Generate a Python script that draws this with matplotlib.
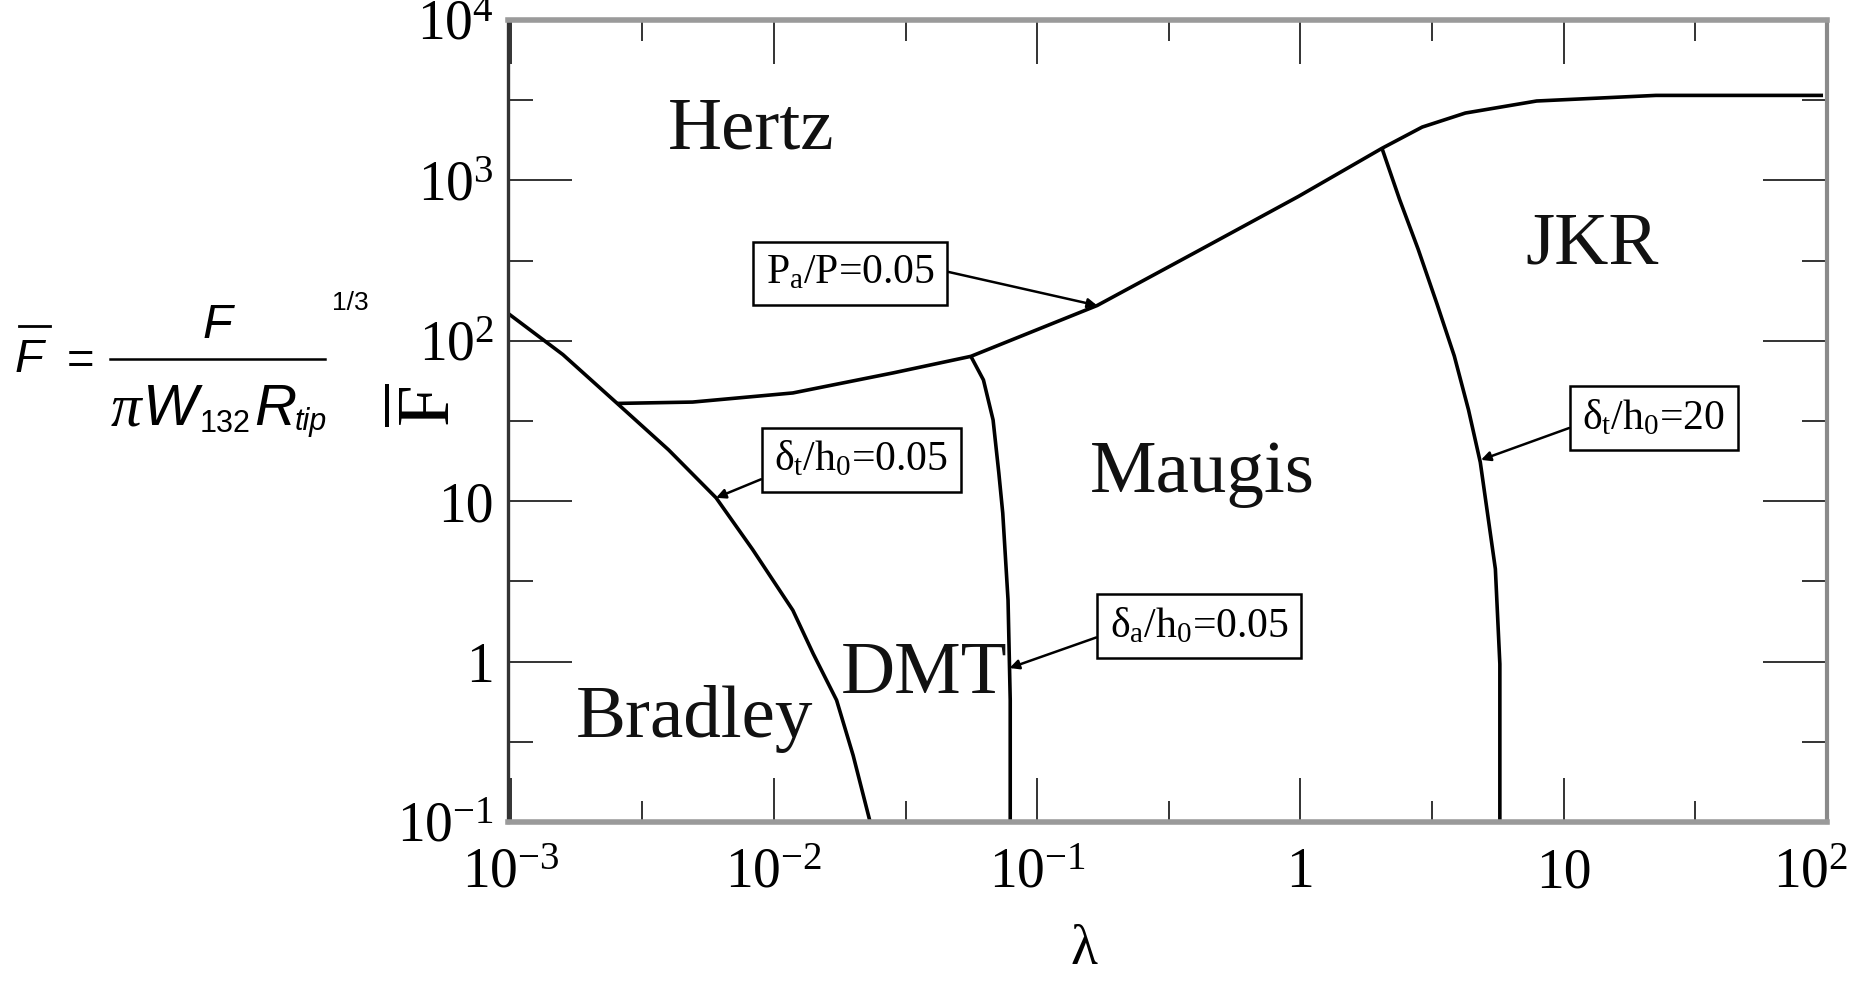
import numpy as np
import matplotlib.pyplot as plt
from matplotlib.ticker import FixedLocator, FixedFormatter, NullFormatter
from matplotlib.lines import Line2D
from matplotlib.transforms import ScaledTranslation

# ===================== fonts =====================
plt.rcParams['font.family'] = ['Liberation Serif', 'DejaVu Serif']
plt.rcParams['mathtext.fontset'] = 'custom'
plt.rcParams['mathtext.rm'] = 'Liberation Serif'
plt.rcParams['mathtext.it'] = 'Liberation Serif:italic'
plt.rcParams['mathtext.bf'] = 'Liberation Serif:bold'

W_PX, H_PX = 1858, 992

# ===================== data: regime boundaries (lambda, F-bar) =====================
# Bradley / DMT boundary (delta_t/h0 = 0.05)
bradley_lam = [9.1e-4, 1.58e-3, 2.54e-3, 3.98e-3, 6.03e-3, 8.3e-3, 1.18e-2, 1.41e-2, 1.73e-2, 2.0e-2, 2.32e-2]
bradley_F = [162, 82, 40.7, 20.9, 10.5, 5.0, 2.09, 1.12, 0.575, 0.26, 0.1]

# Hertz boundary (P_a/P = 0.05)
hertz_lam = [2.54e-3, 4.91e-3, 1.18e-2, 2.84e-2, 5.6e-2, 0.169, 0.398, 0.982, 2.04, 2.9, 4.23, 7.89, 22.4, 96.6]
hertz_F = [40.7, 41.5, 47.3, 63.1, 80.0, 166, 355, 794, 1585, 2150, 2630, 3126, 3388, 3388]

# DMT / Maugis boundary (delta_a/h0 = 0.05)
dmt_lam = [0.056, 0.0625, 0.0680, 0.0715, 0.0740, 0.0775, 0.0790, 0.0790]
dmt_F = [80.0, 57.0, 32.1, 15.0, 8.43, 2.42, 0.575, 0.1]

# Maugis / JKR boundary (delta_t/h0 = 20)
jkr_lam = [2.04, 2.38, 2.80, 3.30, 3.84, 4.35, 4.82, 5.50, 5.72, 5.72]
jkr_F = [1585, 760, 372, 170, 80.4, 37, 17.5, 3.78, 0.966, 0.1]

x_ticks = [1e-3, 1e-2, 1e-1, 1, 10, 100]
x_ticklabels = [r'$10^{-3}$', r'$10^{-2}$', r'$10^{-1}$', '1', '10', r'$10^{2}$']
y_ticks = [1e-1, 1, 10, 1e2, 1e3, 1e4]
y_ticklabels = [r'$10^{-1}$', '1', '10', r'$10^{2}$', r'$10^{3}$', r'$10^{4}$']

# region names, anchored at the baseline centre
regions = ['Hertz', 'Maugis', 'JKR', 'DMT', 'Bradley']
region_lam = [8.18e-3, 0.4256, 12.76, 0.0373, 4.98e-3]
region_F = [1592, 11.4, 305, 0.637, 0.339]


def fig_xy(x, y):
    # pixel (from top-left) -> figure fraction
    return x / W_PX, 1 - y / H_PX


fig = plt.figure(figsize=(W_PX / 100, H_PX / 100), dpi=100)
l, b = fig_xy(508, 822)
r, t = fig_xy(1827, 20)
ax = fig.add_axes([l, b, r - l, t - b])

line_kw = dict(color='black', lw=2.6, solid_capstyle='butt')
ax.plot(bradley_lam, bradley_F, **line_kw)
ax.plot(hertz_lam, hertz_F, **line_kw)
ax.plot(dmt_lam, dmt_F, **line_kw)
ax.plot(jkr_lam, jkr_F, **line_kw)

ax.set_xscale('log')
ax.set_yscale('log')
ax.set_xlim(10 ** -3.01, 100)
ax.set_ylim(1e-1, 1e4)

ax.xaxis.set_major_locator(FixedLocator(x_ticks))
ax.xaxis.set_major_formatter(FixedFormatter(x_ticklabels))
ax.xaxis.set_minor_locator(FixedLocator([10 ** (k + 0.5) for k in range(-3, 2)]))
ax.xaxis.set_minor_formatter(NullFormatter())
ax.yaxis.set_major_locator(FixedLocator(y_ticks))
ax.yaxis.set_major_formatter(FixedFormatter(y_ticklabels))
ax.yaxis.set_minor_locator(FixedLocator([10 ** (k + 0.5) for k in range(-1, 4)]))
ax.yaxis.set_minor_formatter(NullFormatter())

ax.tick_params(which='both', direction='in', top=True, right=True, labelsize=40, width=1.4, color='#333333')
ax.tick_params(axis='y', which='major', length=46, pad=10)
ax.tick_params(axis='y', which='minor', length=18)
ax.tick_params(axis='x', which='major', length=32, pad=18)
ax.tick_params(axis='x', which='minor', length=15)

# last x label sits at the figure edge: nudge it inwards
last = ax.get_xticklabels()[-1]
last.set_transform(last.get_transform() + ScaledTranslation(-0.16, 0, fig.dpi_scale_trans))

ax.spines['left'].set_color('#333333')
ax.spines['left'].set_linewidth(2.4)
for side in ['top', 'bottom']:
    ax.spines[side].set_color('#9a9a9a')
    ax.spines[side].set_linewidth(4)
ax.spines['right'].set_color('#8a8a8a')
ax.spines['right'].set_linewidth(3)

# region names
for name, lx, ly in zip(regions, region_lam, region_F):
    ax.text(lx, ly, name, fontsize=54, ha='center', va='baseline', color='#111111')

# boundary labels with arrows
box = dict(boxstyle='square,pad=0.3', fc='white', ec='black', lw=1.8)
arrow = dict(arrowstyle='-|>', color='black', lw=1.8, mutation_scale=14, shrinkA=0, shrinkB=0)
ax.annotate(r'P$_\mathrm{a}$/P=0.05', xy=(0.169, 166), xytext=(0.0195, 263), fontsize=30,
            ha='center', va='center', bbox=box, arrowprops=dict(arrow, relpos=(1, 0.62)))
ax.annotate(r'δ$_\mathrm{t}$/h$_\mathrm{0}$=0.05', xy=(6.03e-3, 10.5), xytext=(0.0215, 18.1), fontsize=30,
            ha='center', va='center', bbox=box, arrowprops=dict(arrow, relpos=(0, 0.15)))
ax.annotate(r'δ$_\mathrm{a}$/h$_\mathrm{0}$=0.05', xy=(0.0785, 0.912), xytext=(0.412, 1.667), fontsize=30,
            ha='center', va='center', bbox=box, arrowprops=dict(arrow, relpos=(0, 0.33)))
ax.annotate(r'δ$_\mathrm{t}$/h$_\mathrm{0}$=20', xy=(4.85, 18.1), xytext=(22.0, 33.0), fontsize=30,
            ha='center', va='center', bbox=box, arrowprops=dict(arrow, relpos=(0, 0.37)))

# axis labels
fig.text(*fig_xy(1084, 950), 'λ', fontsize=40, ha='center', va='center')
fig.text(*fig_xy(430, 405), r'$\overline{\mathrm{F}}$', fontsize=54, ha='center', va='center', rotation=90)

# formula on the left
sans = ['Liberation Sans', 'DejaVu Sans']
sans_it = dict(family=sans, style='italic', ha='left', va='baseline')
fig.text(*fig_xy(15, 372), 'F', fontsize=34, **sans_it)
fig.add_artist(Line2D([19 / W_PX, 50 / W_PX], [1 - 326 / H_PX] * 2, color='black', lw=2))
fig.text(*fig_xy(81, 362), '=', fontsize=34, family=sans, ha='center', va='center')
fig.text(*fig_xy(217, 338), 'F', fontsize=35, **dict(sans_it, ha='center'))
fig.add_artist(Line2D([110 / W_PX, 325 / W_PX], [1 - 359 / H_PX] * 2, color='black', lw=1.8))
fig.text(*fig_xy(111, 425), 'π', fontsize=44, family=['Liberation Serif', 'DejaVu Serif'], style='italic',
         ha='left', va='baseline')
fig.text(*fig_xy(143, 425), 'W', fontsize=42, **sans_it)
fig.text(*fig_xy(200, 432), '132', fontsize=22, family=sans, ha='left', va='baseline')
fig.text(*fig_xy(254, 425), 'R', fontsize=42, **sans_it)
fig.text(*fig_xy(295, 430), 'tip', fontsize=22, **sans_it)
fig.text(*fig_xy(332, 310), '1/3', fontsize=19, family=sans, ha='left', va='baseline')

fig.savefig('out.png', dpi=100)
